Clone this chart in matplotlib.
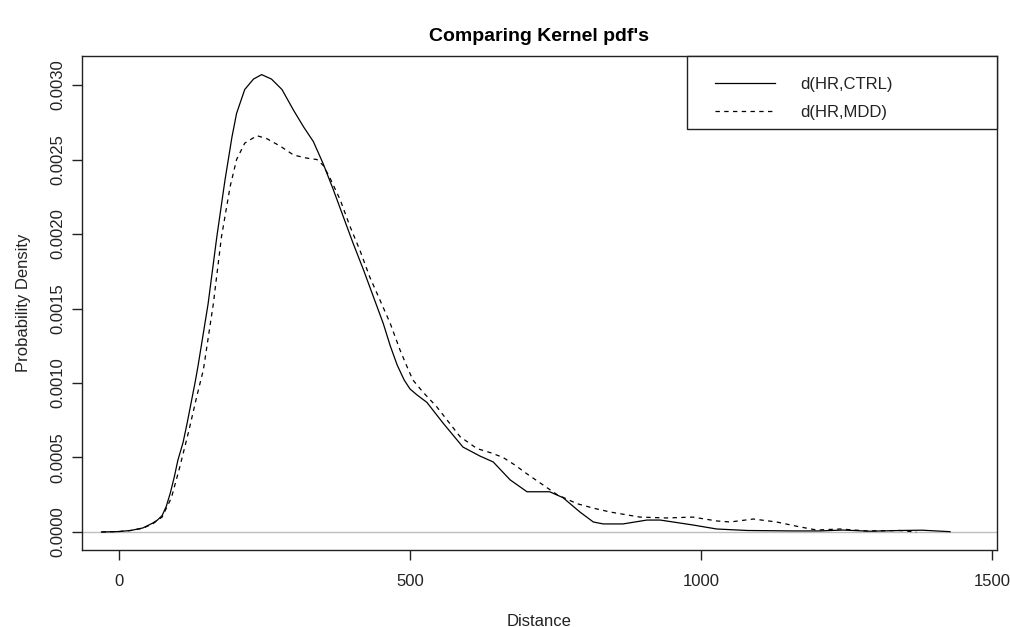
import matplotlib
matplotlib.use("Agg")
from matplotlib import pyplot
from matplotlib.patches import Rectangle

# values
ctrl_x = [-30, 0, 20, 41, 58, 66, 74, 81, 88, 95, 101, 110, 117, 124, 131, 136, 153, 168, 182, 194,
          202, 216, 231, 245, 262, 280, 300, 317, 334, 351, 368, 385, 402, 420, 437, 454, 466, 478,
          490, 500, 512, 529, 557, 591, 620, 643, 672, 701, 740, 763, 792, 815, 832, 866, 907, 930,
          964, 986, 1027, 1080, 1158, 1204, 1244, 1290, 1342, 1380, 1428]
ctrl_y = [0, 0.000003, 0.00001, 0.000027, 0.00006, 0.00008, 0.00011, 0.00017, 0.00026, 0.00037,
          0.00048, 0.0006, 0.00073, 0.00087, 0.00101, 0.00112, 0.00153, 0.00198, 0.00236, 0.00265,
          0.00281, 0.00297, 0.00304, 0.00307, 0.00304, 0.00297, 0.00283, 0.00272, 0.00262, 0.00247,
          0.0023, 0.00212, 0.00194, 0.00176, 0.00158, 0.0014, 0.00125, 0.00112, 0.00102, 0.00096,
          0.00092, 0.00087, 0.00073, 0.00057, 0.00051, 0.00047, 0.00035, 0.00027, 0.00027, 0.00023,
          0.000134, 0.000067, 0.000054, 0.000054, 0.00008, 0.00008, 0.00006, 0.000047, 0.00002,
          0.00001, 0.000007, 0.000007, 0.000013, 0.000005, 0.00001, 0.000012, 0.000002]

mdd_x = [-30, 0, 20, 41, 58, 74, 90, 104, 120, 133, 145, 162, 176, 191, 202, 216, 237, 254, 277, 300,
         322, 340, 351, 362, 380, 397, 414, 431, 448, 466, 483, 497, 505, 522, 546, 566, 586, 615,
         640, 660, 680, 701, 727, 753, 787, 815, 844, 895, 941, 986, 1027, 1050, 1090, 1130, 1170,
         1199, 1239, 1285, 1342, 1370]
mdd_y = [0, 0.000003, 0.00001, 0.000025, 0.000055, 0.0001, 0.00023, 0.00043, 0.00068, 0.0009,
         0.00109, 0.00153, 0.00198, 0.00232, 0.0025, 0.00261, 0.00266, 0.00264, 0.00259, 0.00253,
         0.00251, 0.0025, 0.00246, 0.00238, 0.00223, 0.00205, 0.00189, 0.00171, 0.00156, 0.0014,
         0.00122, 0.00109, 0.00102, 0.00094, 0.00084, 0.00074, 0.00064, 0.00056, 0.00053, 0.0005,
         0.00045, 0.00039, 0.00032, 0.00025, 0.00019, 0.00016, 0.000134, 0.0001, 0.000094, 0.0001,
         0.000074, 0.000067, 0.000087, 0.000067, 0.000034, 0.000013, 0.00002, 0.000007, 0.00001, 0.0]

x_ticks = [0, 500, 1000, 1500]
y_ticks = [0, 0.0005, 0.001, 0.0015, 0.002, 0.0025, 0.003]
labels = ["d(HR,CTRL)", "d(HR,MDD)"]

pyplot.rcParams["font.family"] = ["Liberation Sans", "DejaVu Sans"]
ink = "#222222"

fig = pyplot.figure(figsize=(10.1, 6.27), dpi=100)
ax = fig.add_axes([0.0812, 0.1228, 0.9059, 0.7879])

ax.axhline(0, color="#bebebe", lw=1.0, zorder=1)
ax.plot(ctrl_x, ctrl_y, color="black", lw=0.9, label=labels[0])
ax.plot(mdd_x, mdd_y, color="black", lw=0.9, linestyle=(0, (3.5, 3.5)), label=labels[1])

ax.set_xlim(-63.6, 1508.6)
ax.set_ylim(-0.000121, 0.003195)
ax.set_xticks(x_ticks)
ax.set_xticklabels([str(v) for v in x_ticks])
ax.set_yticks(y_ticks)
ax.set_yticklabels(["%.4f" % v for v in y_ticks], rotation=90, va="center")
ax.tick_params(axis="both", direction="out", length=7, width=1, colors=ink, labelsize=12)
ax.tick_params(axis="x", pad=10)
ax.tick_params(axis="y", pad=5)
for s in ax.spines.values():
    s.set_color(ink)
    s.set_linewidth(1)

ax.set_title("Comparing Kernel pdf's", fontsize=14, fontweight="bold", pad=11, color="black")
ax.set_xlabel("Distance", fontsize=12, color=ink, labelpad=18)
ax.set_ylabel("Probability Density", fontsize=12, color=ink, labelpad=14)

# R style legend: box flush with the top right corner, entries set in from the left
ax.add_patch(Rectangle((0.6612, 0.8522), 0.3388, 0.1478, transform=ax.transAxes,
                       facecolor="white", edgecolor=ink, lw=1, clip_on=False, zorder=4))
leg = ax.legend(loc="upper left", bbox_to_anchor=(0.6918, 0.958), borderaxespad=0,
                frameon=False, fontsize=12, borderpad=0, handlelength=3.6,
                handletextpad=1.5, labelspacing=0.8)
leg.set_zorder(5)
for t in leg.get_texts():
    t.set_color(ink)

pyplot.savefig("out.png", dpi=100)
